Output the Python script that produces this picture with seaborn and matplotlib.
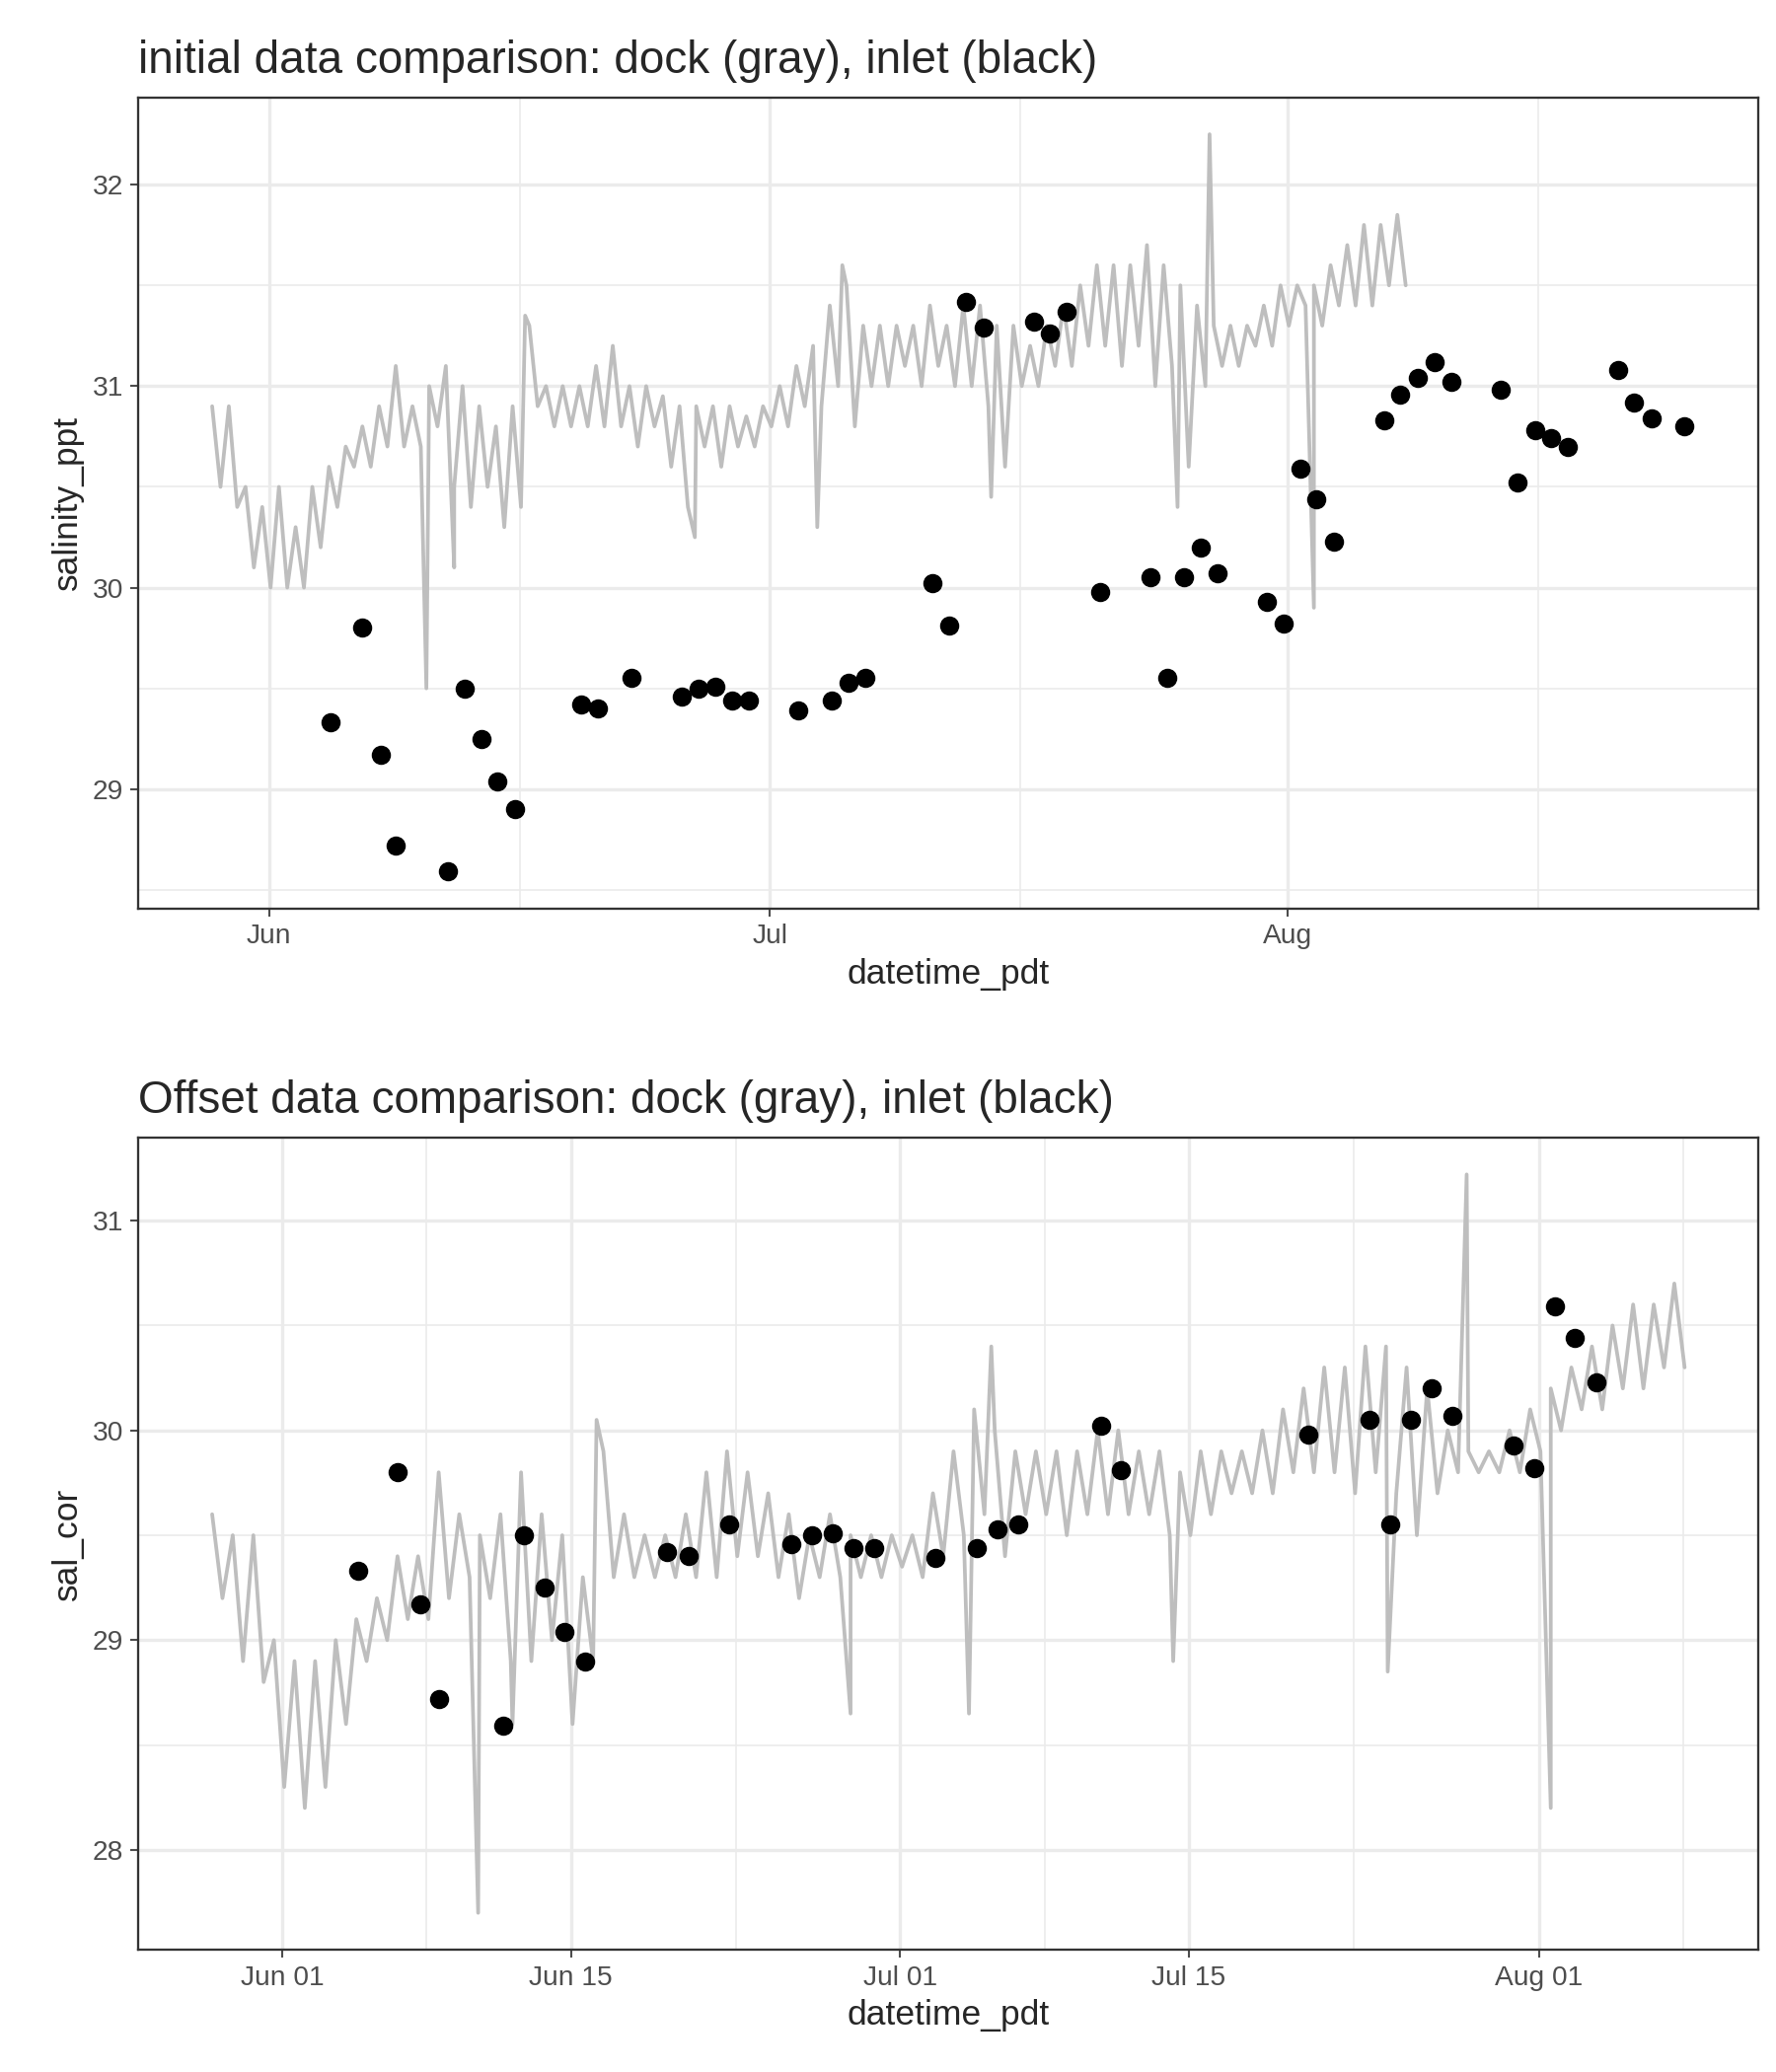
import numpy as np
import pandas as pd
import matplotlib
matplotlib.use("Agg")
import matplotlib.pyplot as plt
import matplotlib.dates as mdates
import seaborn as sns

# dock series: daily high / low (top: salinity_ppt, bottom: sal_cor), starting May 28
dock_start = "2021-05-28 14:00"
top_high = [30.9,30.9,30.5,30.4,30.5,30.3,30.5,30.6,30.7,30.8,30.9,31.1,30.9,31.0,31.1,31.0,30.9,30.8,30.9,
            31.3,31.0,31.0,31.0,31.1,31.2,31.0,31.0,30.95,30.9,30.9,30.9,30.9,30.85,30.9,31.0,31.1,31.2,31.4,
            31.5,31.3,31.3,31.3,31.3,31.4,31.3,31.4,31.4,31.3,31.3,31.2,31.3,31.4,31.5,31.6,31.6,31.6,31.7,
            31.6,31.5,31.4,31.3,31.3,31.3,31.4,31.5,31.5,31.5,31.6,31.7,31.8,31.8,31.85]
top_low = [30.5,30.4,30.1,30.0,30.0,30.0,30.2,30.4,30.6,30.6,30.7,30.7,30.7,30.8,30.5,30.4,30.5,30.3,30.4,
           30.9,30.8,30.8,30.8,30.8,30.8,30.7,30.8,30.6,30.4,30.7,30.6,30.7,30.7,30.8,30.8,30.9,30.9,31.0,
           30.8,31.0,31.0,31.1,31.0,31.1,31.0,31.0,30.9,30.6,31.0,31.0,31.1,31.1,31.2,31.2,31.1,31.2,31.0,
           31.1,30.6,31.0,31.1,31.1,31.2,31.2,31.3,31.4,31.3,31.4,31.4,31.4,31.5,31.5]
top_spike_t = ["2021-06-10 10:00","2021-06-12 02:00","2021-06-16 08:00","2021-06-26 12:00","2021-07-03 20:00",
               "2021-07-05 08:00","2021-07-14 06:00","2021-07-25 10:00","2021-07-27 08:00","2021-08-02 14:00"]
top_spike_v = [29.5,30.1,31.35,30.25,30.3,31.6,30.45,30.4,32.25,29.9]

bot_high = [29.6,29.5,29.5,29.0,28.9,28.9,29.0,29.1,29.2,29.4,29.4,29.8,29.6,29.5,29.6,29.8,29.6,29.5,29.3,
            29.9,29.6,29.5,29.5,29.6,29.8,29.9,29.8,29.7,29.6,29.5,29.6,29.5,29.5,29.5,29.5,29.7,29.9,30.1,
            30.0,29.9,29.9,29.9,29.9,30.0,30.0,29.9,29.9,29.8,29.9,29.9,29.9,30.0,30.1,30.2,30.3,30.3,30.4,
            30.4,30.3,30.2,30.0,29.9,29.9,30.0,30.1,30.2,30.3,30.4,30.5,30.6,30.6,30.7]
bot_low = [29.2,28.9,28.8,28.3,28.2,28.3,28.6,28.9,29.0,29.1,29.1,29.2,29.3,29.2,28.9,28.9,29.0,28.6,28.9,
           29.3,29.3,29.3,29.3,29.3,29.3,29.4,29.4,29.3,29.2,29.3,29.3,29.3,29.3,29.35,29.3,29.4,29.5,29.6,
           29.4,29.6,29.6,29.5,29.6,29.6,29.6,29.6,29.5,29.5,29.6,29.7,29.7,29.7,29.8,29.8,29.8,29.7,29.8,
           29.7,29.5,29.7,29.8,29.8,29.8,29.8,29.9,30.0,30.1,30.1,30.2,30.2,30.3,30.3]
bot_spike_t = ["2021-06-10 12:00","2021-06-12 04:00","2021-06-16 06:00","2021-06-28 14:00","2021-07-04 08:00",
               "2021-07-05 10:00","2021-07-14 06:00","2021-07-24 16:00","2021-07-28 12:00","2021-08-01 14:00"]
bot_spike_v = [27.7,28.6,30.05,28.65,28.65,30.4,28.9,28.85,31.22,28.2]

# inlet samples (top panel)
inlet_t = ["06-04 16","06-06 14","06-07 17","06-08 14","06-11 17","06-12 17","06-13 17","06-14 16","06-15 17",
           "06-19 16","06-20 17","06-22 17","06-25 17","06-26 17","06-27 17","06-28 17","06-29 17",
           "07-02 17","07-04 17","07-05 17","07-06 17","07-10 18","07-11 17","07-12 18","07-13 19",
           "07-16 19","07-17 19","07-18 19","07-20 19","07-23 19","07-24 19","07-25 19","07-26 19","07-27 19",
           "07-30 19","07-31 19","08-01 19","08-02 18","08-03 19","08-06 19","08-07 18","08-08 19","08-09 19",
           "08-10 20","08-13 19","08-14 19","08-15 20","08-16 19","08-17 19","08-20 19","08-21 18","08-22 19","08-24 19"]
inlet_v = [29.33,29.80,29.17,28.72,28.59,29.50,29.25,29.04,28.90,29.42,29.40,29.55,29.46,29.50,29.51,29.44,29.44,
           29.39,29.44,29.53,29.55,30.02,29.81,31.42,31.29,31.32,31.26,31.37,29.98,30.05,29.55,30.05,30.20,30.07,
           29.93,29.82,30.59,30.44,30.23,30.83,30.96,31.04,31.12,31.02,30.98,30.52,30.78,30.74,30.70,31.08,30.92,
           30.84,30.80]

# inlet samples shown in the offset panel
inlet2_t = ["06-04 16","06-06 14","06-07 17","06-08 14","06-11 17","06-12 17","06-13 17","06-14 16","06-15 17",
            "06-19 16","06-20 17","06-22 17","06-25 17","06-26 17","06-27 17","06-28 17","06-29 17",
            "07-02 17","07-04 17","07-05 17","07-06 17","07-10 18","07-11 17",
            "07-20 19","07-23 19","07-24 19","07-25 19","07-26 19","07-27 19",
            "07-30 19","07-31 19","08-01 19","08-02 18","08-03 19"]
inlet2_v = [29.33,29.80,29.17,28.72,28.59,29.50,29.25,29.04,28.90,29.42,29.40,29.55,29.46,29.50,29.51,29.44,29.44,
            29.39,29.44,29.53,29.55,30.02,29.81,29.98,30.05,29.55,30.05,30.20,30.07,
            29.93,29.82,30.59,30.44,30.23]

def dock_frame(high, low, st, sv, col):
    t = pd.date_range(dock_start, periods=2 * len(high), freq="12h")
    v = [x for pair in zip(high, low) for x in pair]
    d = pd.DataFrame({"datetime_pdt": t, col: v})
    s = pd.DataFrame({"datetime_pdt": pd.to_datetime(st), col: sv})
    return pd.concat([d, s]).sort_values("datetime_pdt").reset_index(drop=True)

dock_top = dock_frame(top_high, top_low, top_spike_t, top_spike_v, "salinity_ppt")
dock_bot = dock_frame(bot_high, bot_low, bot_spike_t, bot_spike_v, "sal_cor")
inlet = pd.DataFrame({"datetime_pdt": pd.to_datetime(["2021-" + s + ":00" for s in inlet_t]),
                      "salinity_ppt": inlet_v})
inlet_bot = pd.DataFrame({"datetime_pdt": pd.to_datetime(["2021-" + s + ":00" for s in inlet2_t]),
                          "sal_cor": inlet2_v})

sns.set_theme(style="white")
plt.rcParams["font.family"] = ["Liberation Sans", "DejaVu Sans"]

fig = plt.figure(figsize=(12, 14), dpi=150)
ax1 = fig.add_axes([0.078, 0.5615, 0.912, 0.3915])
ax2 = fig.add_axes([0.078, 0.059, 0.912, 0.392])

def style(ax, title, ylabel, major_fmt, majors, minors, yminor):
    ax.set_facecolor("white")
    for s in ax.spines.values():
        s.set_color("#333333"); s.set_linewidth(1.1)
    ax.xaxis.set_major_locator(matplotlib.ticker.FixedLocator([mdates.date2num(pd.Timestamp(m)) for m in majors]))
    ax.xaxis.set_minor_locator(matplotlib.ticker.FixedLocator([mdates.date2num(pd.Timestamp(m)) for m in minors]))
    ax.xaxis.set_major_formatter(mdates.DateFormatter(major_fmt))
    ax.yaxis.set_minor_locator(matplotlib.ticker.FixedLocator(yminor))
    ax.grid(which="major", color="#ebebeb", linewidth=1.6)
    ax.grid(which="minor", color="#ebebeb", linewidth=0.8)
    ax.set_axisbelow(True)
    ax.tick_params(axis="both", which="major", labelsize=13.5, colors="#4d4d4d", length=4, width=1, direction="out",
                   bottom=True, left=True)
    ax.tick_params(which="minor", length=0)
    ax.set_title(title, loc="left", fontsize=22, pad=12)
    ax.set_xlabel("datetime_pdt", fontsize=17, labelpad=4)
    ax.set_ylabel(ylabel, fontsize=17)

sns.lineplot(data=dock_top, x="datetime_pdt", y="salinity_ppt", color="#bebebe", linewidth=1.8,
             estimator=None, ax=ax1)
sns.scatterplot(data=inlet, x="datetime_pdt", y="salinity_ppt", color="black", s=75, edgecolor=None, ax=ax1, zorder=3)
ax1.margins(x=0.05)
style(ax1, "initial data comparison: dock (gray), inlet (black)", "salinity_ppt", "%b",
      ["2021-06-01", "2021-07-01", "2021-08-01"], ["2021-06-16", "2021-07-16", "2021-08-16"],
      [28.5, 29.5, 30.5, 31.5])
ax1.set_yticks([29, 30, 31, 32])

sns.lineplot(data=dock_bot, x="datetime_pdt", y="sal_cor", color="#bebebe", linewidth=1.8,
             estimator=None, ax=ax2)
sns.scatterplot(data=inlet_bot, x="datetime_pdt", y="sal_cor", color="black", s=75, edgecolor=None, ax=ax2, zorder=3)
ax2.margins(x=0.05)
style(ax2, "Offset data comparison: dock (gray), inlet (black)", "sal_cor", "%b %d",
      ["2021-06-01", "2021-06-15", "2021-07-01", "2021-07-15", "2021-08-01"],
      ["2021-05-25", "2021-06-08", "2021-06-23", "2021-07-08", "2021-07-23", "2021-08-08"],
      [27.5, 28.5, 29.5, 30.5])
ax2.set_yticks([28, 29, 30, 31])

fig.savefig("out.png", dpi=150, facecolor="white")
